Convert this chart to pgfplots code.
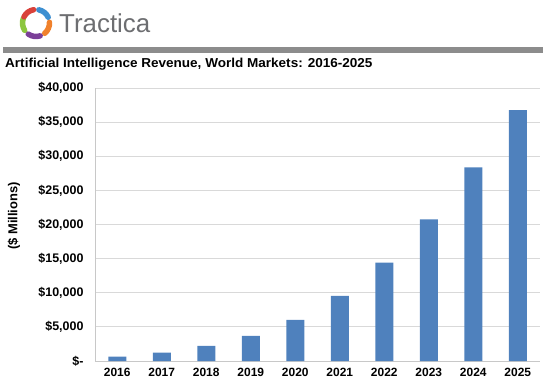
\documentclass[border=0pt]{standalone}
\usepackage{pgfplots}
\pgfplotsset{compat=1.18}
\usepackage{fontspec}
\setmainfont{Liberation Sans}
\definecolor{barblue}{HTML}{4F81BD}
\definecolor{gridgray}{HTML}{D9D9D9}
\definecolor{axgray}{HTML}{C8C8C8}
\definecolor{logogray}{HTML}{6D6E71}
\definecolor{bandgray}{HTML}{8C8C8C}
\definecolor{lred}{HTML}{D9413A}
\definecolor{lblue}{HTML}{3D8FD1}
\definecolor{lorange}{HTML}{F0812C}
\definecolor{lpurple}{HTML}{7B3F98}
\definecolor{lgreen}{HTML}{8CC63F}
\pgfplotstableread{
x val
0 640
1 1220
2 2200
3 3680
4 6030
5 9560
6 14410
7 20740
8 28380
9 36760
}\revtable
\begin{document}
\begin{tikzpicture}
\useasboundingbox (0bp,0bp) rectangle (543bp,-384bp);
\begin{scope}[x=1bp,y=1bp]
% logo
\begin{scope}[shift={(36,-23)}, line width=5.5bp, line cap=round]
\draw[lblue] (78:13.5) arc (78:25:13.5);
\draw[lorange] (3:13.5) arc (3:-50:13.5);
\draw[lpurple] (-72:13.5) arc (-72:-125:13.5);
\draw[lgreen] (-147:13.5) arc (-147:-200:13.5);
\draw[lred] (153:13.5) arc (153:100:13.5);
\end{scope}
\node[anchor=base west, inner sep=0pt, text=logogray, font=\fontsize{26}{30}\selectfont] at (59,-32) {Tractica};
\fill[bandgray] (3,-47) rectangle (543,-53);
\node[anchor=base west, inner sep=0pt, xscale=1.045, font=\fontsize{13}{15}\selectfont\bfseries] at (5,-67.5) {Artificial Intelligence Revenue, World Markets: 2016-2025};
\node[rotate=90, inner sep=0pt, font=\fontsize{13}{15}\selectfont\bfseries] at (14,-216) {(\$ Millions)};
\end{scope}
\begin{axis}[
  at={(95bp,-361bp)}, anchor=south west,
  scale only axis, width=445bp, height=273bp,
  xmin=-0.5, xmax=9.5, ymin=0, ymax=40000,
  axis x line*=bottom, axis y line*=left,
  axis line style={axgray, line width=1bp, -},
  major tick length=0pt,
  scaled y ticks=false,
  xtick={0,...,9},
  xticklabels={2016,2017,2018,2019,2020,2021,2022,2023,2024,2025},
  ytick={0,5000,...,40000},
  yticklabels={\$-,{\$5,000},{\$10,000},{\$15,000},{\$20,000},{\$25,000},{\$30,000},{\$35,000},{\$40,000}},
  ymajorgrids, grid style={gridgray, line width=1bp},
  yticklabel style={font=\fontsize{12.5}{14}\selectfont\bfseries, xshift=-8bp},
  xticklabel style={font=\fontsize{12}{14}\selectfont\bfseries, yshift=-4bp},
  clip=false,
]
\addplot[ybar, bar width=18bp, fill=barblue, draw=none, bar shift=0pt] table[x=x,y=val] {\revtable};
\end{axis}
\end{tikzpicture}
\end{document}
